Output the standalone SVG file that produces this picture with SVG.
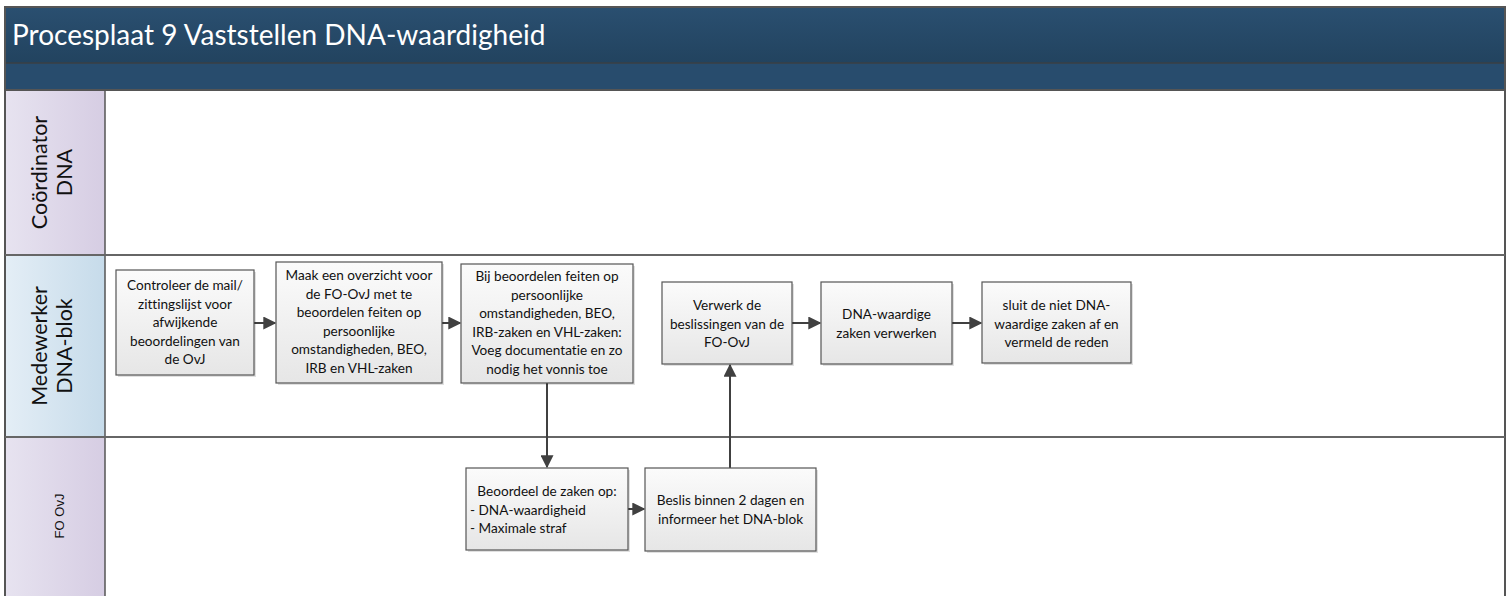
<svg xmlns="http://www.w3.org/2000/svg" width="1509" height="596" viewBox="0 0 1509 596">
<style>
text{font-variant-ligatures:none;font-feature-settings:"liga" 0,"dlig" 0}
.box{fill:url(#boxg);stroke:#555;stroke-width:1.2}
.t{font-family:Lato,"Liberation Sans",sans-serif;font-size:13.6px;fill:#111;text-anchor:middle}
.tl{font-family:Lato,"Liberation Sans",sans-serif;font-size:13.6px;fill:#111}
.lane{font-family:Lato,"Liberation Sans",sans-serif;font-size:21.5px;fill:#111;text-anchor:middle}
.conn{stroke:#404040;stroke-width:2;fill:none}
.sh{fill:#000;opacity:0.12}
</style>
<defs>
<linearGradient id="hdr" x1="0" y1="0" x2="0" y2="1"><stop offset="0" stop-color="#2a4f70"/><stop offset="1" stop-color="#22435f"/></linearGradient>
<linearGradient id="purp" x1="0" y1="0" x2="1" y2="0"><stop offset="0" stop-color="#e7e3f0"/><stop offset="1" stop-color="#d6cde3"/></linearGradient>
<linearGradient id="blue" x1="0" y1="0" x2="1" y2="0"><stop offset="0" stop-color="#e4eef6"/><stop offset="1" stop-color="#c6dbea"/></linearGradient>
<linearGradient id="boxg" x1="0" y1="0" x2="0" y2="1"><stop offset="0" stop-color="#fbfbfb"/><stop offset="1" stop-color="#e6e6e6"/></linearGradient>
<marker id="arr" viewBox="0 0 10 10" refX="9" refY="5" markerWidth="6.5" markerHeight="6.5" orient="auto" markerUnits="strokeWidth"><path d="M0,0 L10,5 L0,10 z" fill="#404040"/></marker>
</defs>
<rect width="1509" height="596" fill="#fff"/>
<g id="frame">
<rect x="5" y="7" width="1500" height="56" fill="url(#hdr)"/>
<rect x="5" y="63" width="1500" height="27" fill="#284c6d"/>
<line x1="5" y1="63" x2="1505" y2="63" stroke="#3a3f44" stroke-width="1.5"/>
<text x="12" y="45" font-family="Lato,'Liberation Sans',sans-serif" font-size="28" fill="#fff">Procesplaat 9 Vaststellen DNA-waardigheid</text>
</g>
<g id="lane-coordinator">
<rect x="5" y="90" width="100" height="165" fill="url(#purp)"/>
<text class="lane" transform="translate(47,172.5) rotate(-90)">Coördinator</text>
<text class="lane" transform="translate(72,172.5) rotate(-90)">DNA</text>
</g>
<g id="lane-medewerker">
<rect x="5" y="255" width="100" height="182" fill="url(#blue)"/>
<text class="lane" transform="translate(47,346) rotate(-90)">Medewerker</text>
<text class="lane" transform="translate(72,346) rotate(-90)">DNA-blok</text>
</g>
<g id="lane-foovj">
<rect x="5" y="437" width="100" height="159" fill="url(#purp)"/>
<text transform="translate(64,516) rotate(-90)" font-family="'Liberation Sans',Arial,sans-serif" font-size="13" fill="#111" text-anchor="middle">FO OvJ</text>
</g>
<g id="grid" fill="none">
<rect x="5" y="7" width="1500" height="600" stroke="#555" stroke-width="2"/>
<line x1="5" y1="90" x2="1505" y2="90" stroke="#555" stroke-width="2"/>
<line x1="105" y1="90" x2="105" y2="596" stroke="#555" stroke-width="1.5"/>
<line x1="5" y1="255" x2="1505" y2="255" stroke="#666" stroke-width="2"/>
<line x1="5" y1="437" x2="1505" y2="437" stroke="#666" stroke-width="2"/>
</g>
<g id="connectors">
<line class="conn" x1="254" y1="323" x2="275" y2="323" marker-end="url(#arr)"/>
<line class="conn" x1="442" y1="323" x2="460" y2="323" marker-end="url(#arr)"/>
<line class="conn" x1="547" y1="383" x2="547" y2="467" marker-end="url(#arr)"/>
<line class="conn" x1="628" y1="509" x2="644" y2="509" marker-end="url(#arr)"/>
<line class="conn" x1="730" y1="468" x2="730" y2="365" marker-end="url(#arr)"/>
<line class="conn" x1="792" y1="323" x2="820" y2="323" marker-end="url(#arr)"/>
<line class="conn" x1="952" y1="323" x2="981" y2="323" marker-end="url(#arr)"/>
</g>
<g id="n1">
<rect class="sh" x="118" y="272" width="138" height="105"/>
<rect class="box" x="116" y="270" width="138" height="105"/>
<text class="t" x="185" y="290">Controleer de mail/</text>
<text class="t" x="185" y="308.5">zittingslijst voor</text>
<text class="t" x="185" y="327">afwijkende</text>
<text class="t" x="185" y="345.5">beoordelingen van</text>
<text class="t" x="185" y="364">de OvJ</text>
</g>
<g id="n2">
<rect class="sh" x="278" y="264" width="166" height="121"/>
<rect class="box" x="276" y="262" width="166" height="121"/>
<text class="t" x="359" y="280">Maak een overzicht voor</text>
<text class="t" x="359" y="298.5">de FO-OvJ met te</text>
<text class="t" x="359" y="317">beoordelen feiten op</text>
<text class="t" x="359" y="335.5">persoonlijke</text>
<text class="t" x="359" y="354">omstandigheden, BEO,</text>
<text class="t" x="359" y="372.5">IRB en VHL-zaken</text>
</g>
<g id="n3">
<rect class="sh" x="463" y="266" width="172" height="119"/>
<rect class="box" x="461" y="264" width="172" height="119"/>
<text class="t" x="547" y="281">Bij beoordelen feiten op</text>
<text class="t" x="547" y="299.5">persoonlijke</text>
<text class="t" x="547" y="318">omstandigheden, BEO,</text>
<text class="t" x="547" y="336.5">IRB-zaken en VHL-zaken:</text>
<text class="t" x="547" y="355">Voeg documentatie en zo</text>
<text class="t" x="547" y="373.5">nodig het vonnis toe</text>
</g>
<g id="n4">
<rect class="sh" x="664" y="284" width="130" height="82"/>
<rect class="box" x="662" y="282" width="130" height="82"/>
<text class="t" x="727" y="310">Verwerk de</text>
<text class="t" x="727" y="328.5">beslissingen van de</text>
<text class="t" x="727" y="347">FO-OvJ</text>
</g>
<g id="n5">
<rect class="sh" x="823" y="284" width="131" height="82"/>
<rect class="box" x="821" y="282" width="131" height="82"/>
<text class="t" x="886.5" y="319">DNA-waardige</text>
<text class="t" x="886.5" y="337.5">zaken verwerken</text>
</g>
<g id="n6">
<rect class="sh" x="984" y="284" width="149" height="81"/>
<rect class="box" x="982" y="282" width="149" height="81"/>
<text class="t" x="1056.5" y="310">sluit de niet DNA-</text>
<text class="t" x="1056.5" y="328.5">waardige zaken af en</text>
<text class="t" x="1056.5" y="347">vermeld de reden</text>
</g>
<g id="n7">
<rect class="sh" x="468" y="470" width="162" height="82"/>
<rect class="box" x="466" y="468" width="162" height="82"/>
<text class="t" x="547" y="496">Beoordeel de zaken op:</text>
<text class="tl" x="470" y="514.5">- DNA-waardigheid</text>
<text class="tl" x="470" y="533">- Maximale straf</text>
</g>
<g id="n8">
<rect class="sh" x="647" y="470" width="171" height="83"/>
<rect class="box" x="645" y="468" width="171" height="83"/>
<text class="t" x="730.5" y="505">Beslis binnen 2 dagen en</text>
<text class="t" x="730.5" y="523.5">informeer het DNA-blok</text>
</g>
</svg>
